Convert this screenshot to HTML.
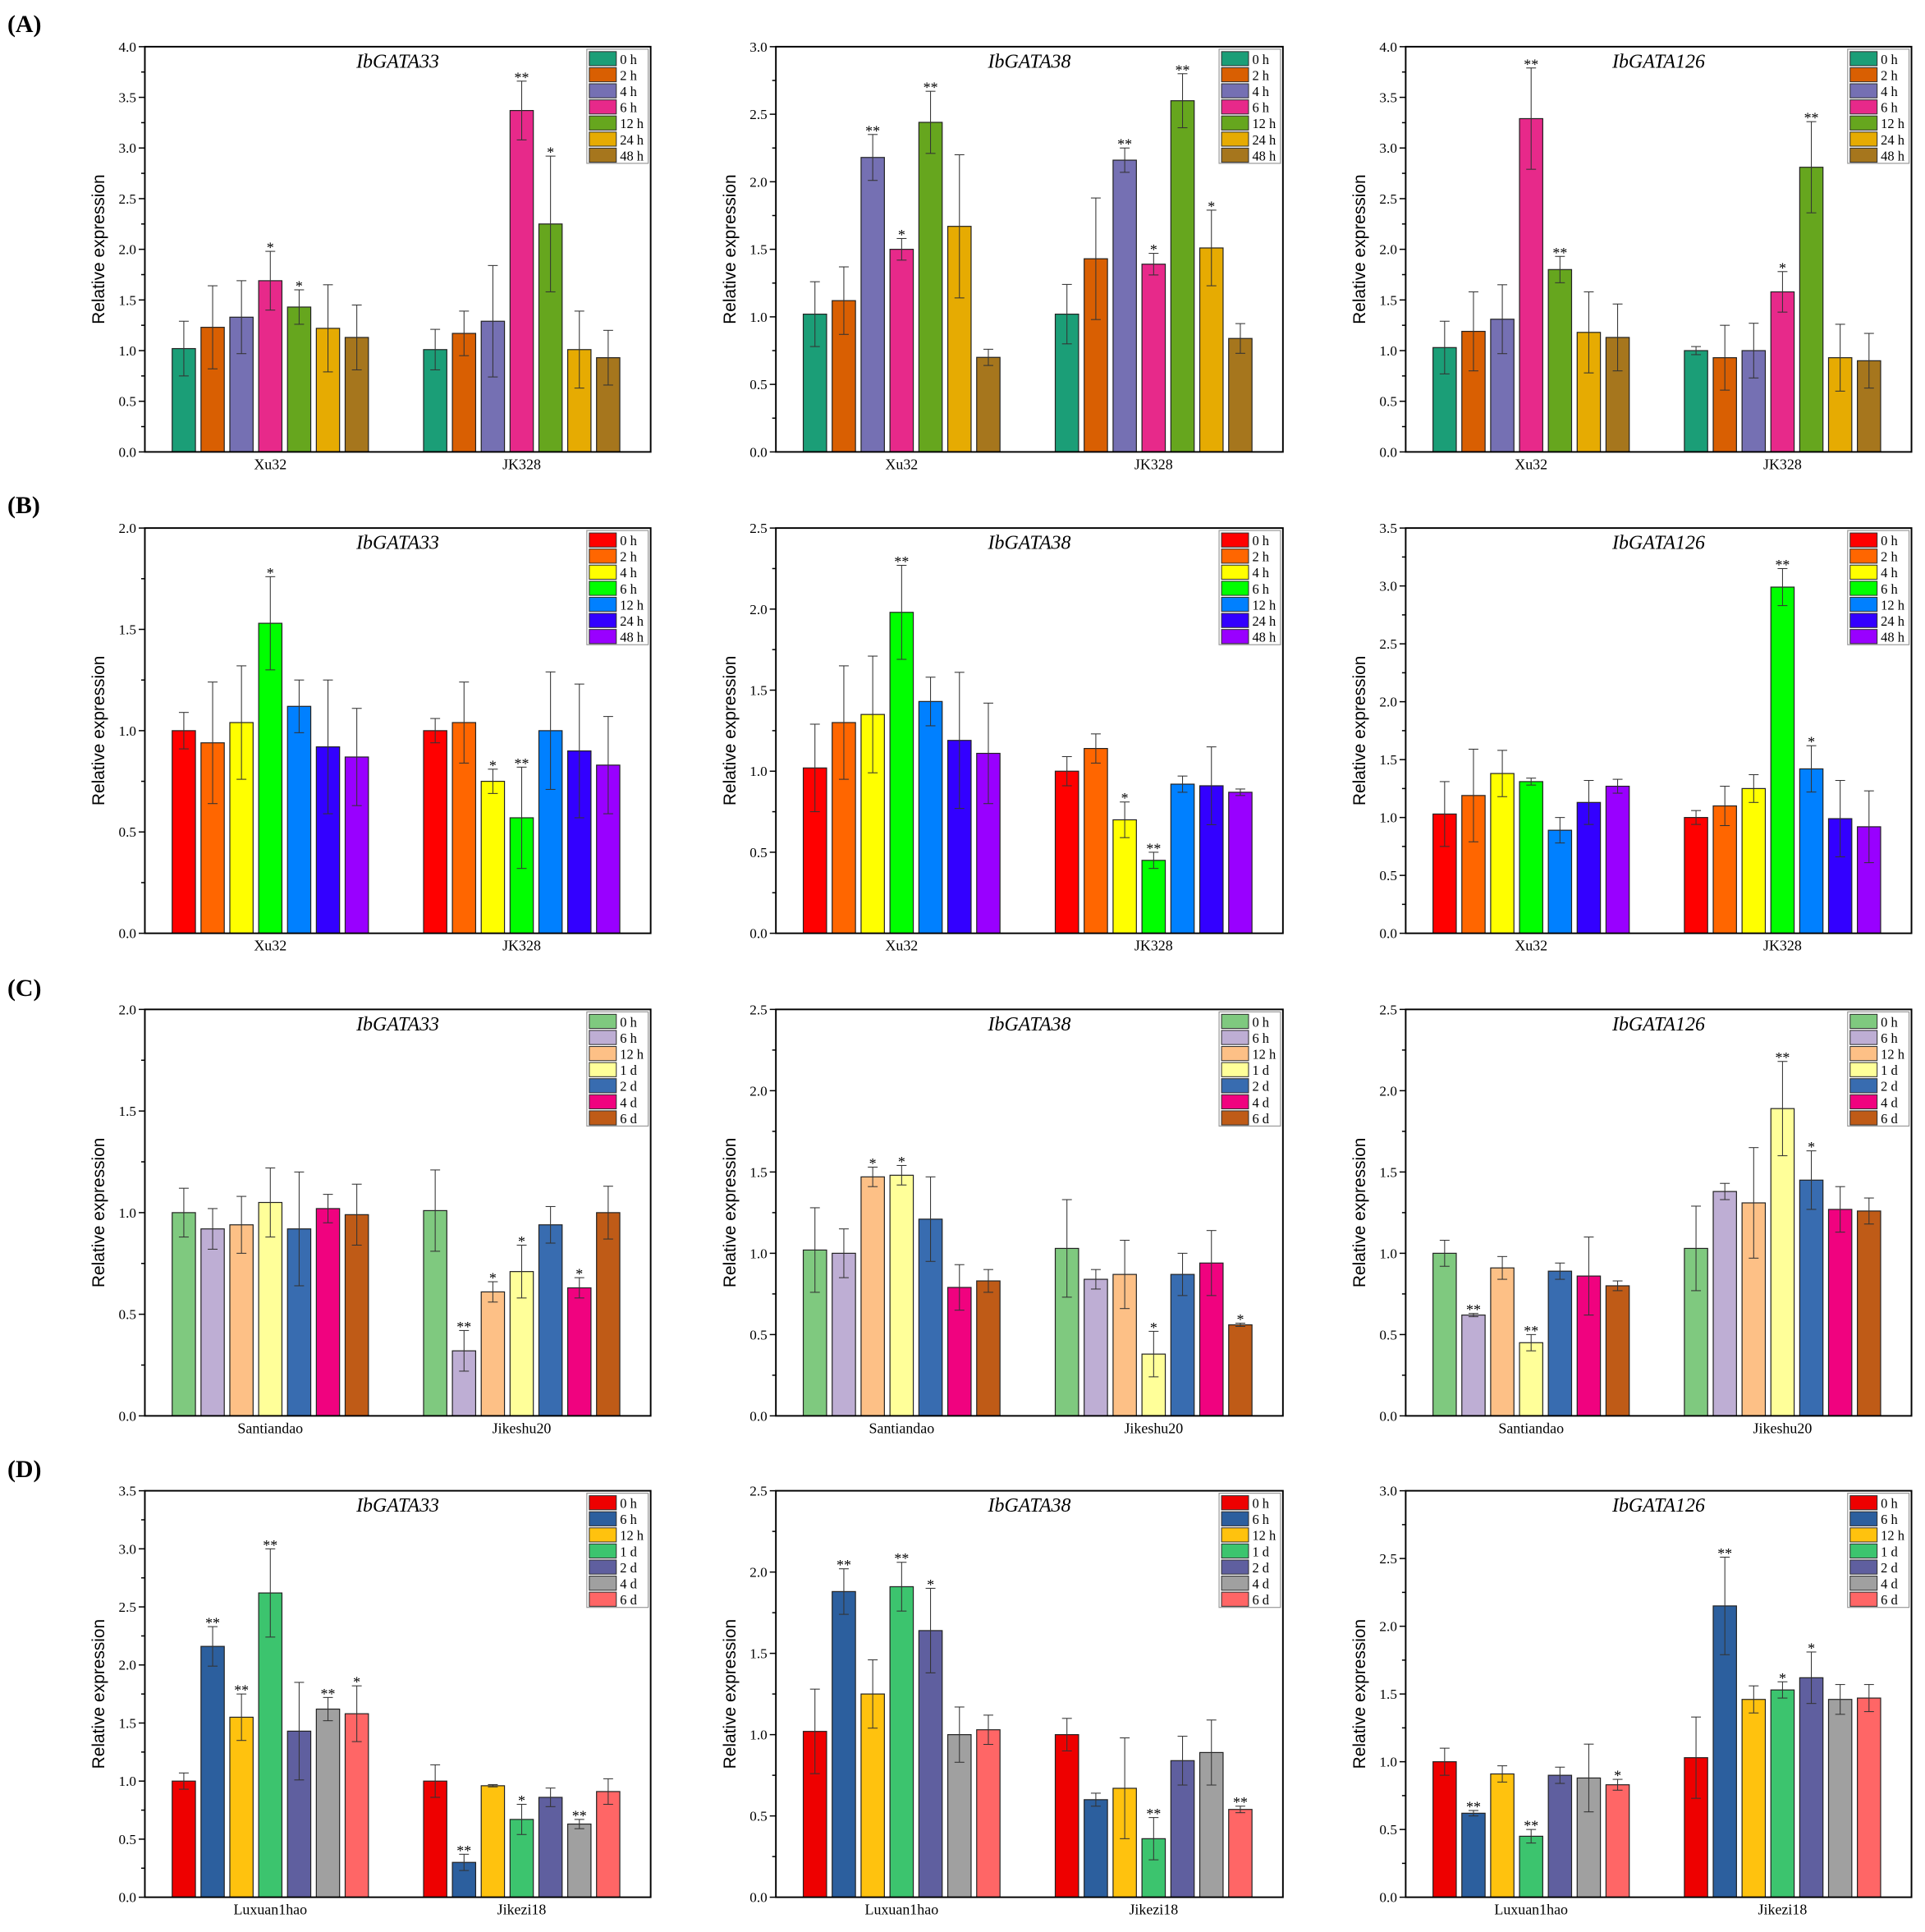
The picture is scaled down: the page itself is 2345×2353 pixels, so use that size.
<!DOCTYPE html>
<html><head><meta charset="utf-8">
<style>
html,body{margin:0;padding:0;background:#fff;}
svg{display:block;}
</style></head>
<body>
<svg id="fig" width="2345" height="2353" viewBox="0 0 1568 1573.3" xmlns="http://www.w3.org/2000/svg"></svg>
<script>
// ---- data ----
const rowLetters = ["(A)","(B)","(C)","(D)"];
const genes = ["IbGATA33","IbGATA38","IbGATA126"];
const groupsA = ["Xu32","JK328"];
const groupsC = ["Santiandao","Jikeshu20"];
const groupsD = ["Luxuan1hao","Jikezi18"];
const legendAB = ["0 h","2 h","4 h","6 h","12 h","24 h","48 h"];
const legendCD = ["0 h","6 h","12 h","1 d","2 d","4 d","6 d"];
const colorsA = ["#1b9e77","#d95f02","#7570b3","#e7298a","#66a61e","#e6ab02","#a6761d"];
const colorsB = ["#ff0000","#ff6600","#ffff00","#00ff00","#0080ff","#3300ff","#9900ff"];
const colorsC = ["#7fc97f","#beaed4","#fdc086","#ffff99","#386cb0","#f0027f","#bf5b17"];
const colorsD = ["#ee0000","#2c5f9e","#ffc20e","#3cc46e","#5f5f9f","#a0a0a0","#ff6666"];
const yMax = [[4,3,4],[2,2.5,3.5],[2,2.5,2.5],[3.5,2.5,3]];
// values [row][col][group][series]
const values = [
 [[[1.02,1.23,1.33,1.69,1.43,1.22,1.13],[1.01,1.17,1.29,3.37,2.25,1.01,0.93]],
  [[1.02,1.12,2.18,1.50,2.44,1.67,0.70],[1.02,1.43,2.16,1.39,2.60,1.51,0.84]],
  [[1.03,1.19,1.31,3.29,1.80,1.18,1.13],[1.00,0.93,1.00,1.58,2.81,0.93,0.90]]],
 [[[1.00,0.94,1.04,1.53,1.12,0.92,0.87],[1.00,1.04,0.75,0.57,1.00,0.90,0.83]],
  [[1.02,1.30,1.35,1.98,1.43,1.19,1.11],[1.00,1.14,0.70,0.45,0.92,0.91,0.87]],
  [[1.03,1.19,1.38,1.31,0.89,1.13,1.27],[1.00,1.10,1.25,2.99,1.42,0.99,0.92]]],
 [[[1.00,0.92,0.94,1.05,0.92,1.02,0.99],[1.01,0.32,0.61,0.71,0.94,0.63,1.00]],
  [[1.02,1.00,1.47,1.48,1.21,0.79,0.83],[1.03,0.84,0.87,0.38,0.87,0.94,0.56]],
  [[1.00,0.62,0.91,0.45,0.89,0.86,0.80],[1.03,1.38,1.31,1.89,1.45,1.27,1.26]]],
 [[[1.00,2.16,1.55,2.62,1.43,1.62,1.58],[1.00,0.30,0.96,0.67,0.86,0.63,0.91]],
  [[1.02,1.88,1.25,1.91,1.64,1.00,1.03],[1.00,0.60,0.67,0.36,0.84,0.89,0.54]],
  [[1.00,0.62,0.91,0.45,0.90,0.88,0.83],[1.03,2.15,1.46,1.53,1.62,1.46,1.47]]]
];
const errors = [
 [[[0.27,0.41,0.36,0.29,0.17,0.43,0.32],[0.20,0.22,0.55,0.29,0.67,0.38,0.27]],
  [[0.24,0.25,0.17,0.08,0.23,0.53,0.06],[0.22,0.45,0.09,0.08,0.20,0.28,0.11]],
  [[0.26,0.39,0.34,0.50,0.13,0.40,0.33],[0.04,0.32,0.27,0.20,0.45,0.33,0.27]]],
 [[[0.09,0.30,0.28,0.23,0.13,0.33,0.24],[0.06,0.20,0.06,0.25,0.29,0.33,0.24]],
  [[0.27,0.35,0.36,0.29,0.15,0.42,0.31],[0.09,0.09,0.11,0.05,0.05,0.24,0.02]],
  [[0.28,0.40,0.20,0.03,0.11,0.19,0.06],[0.06,0.17,0.12,0.16,0.20,0.33,0.31]]],
 [[[0.12,0.10,0.14,0.17,0.28,0.07,0.15],[0.20,0.10,0.05,0.13,0.09,0.05,0.13]],
  [[0.26,0.15,0.06,0.06,0.26,0.14,0.07],[0.30,0.06,0.21,0.14,0.13,0.20,0.01]],
  [[0.08,0.01,0.07,0.05,0.05,0.24,0.03],[0.26,0.05,0.34,0.29,0.18,0.14,0.08]]],
 [[[0.07,0.17,0.20,0.38,0.42,0.10,0.24],[0.14,0.07,0.01,0.13,0.08,0.04,0.11]],
  [[0.26,0.14,0.21,0.15,0.26,0.17,0.09],[0.10,0.04,0.31,0.13,0.15,0.20,0.02]],
  [[0.10,0.02,0.06,0.05,0.06,0.25,0.04],[0.30,0.36,0.10,0.06,0.19,0.11,0.10]]]
];
const stars = [
 [[["","","","*","*","",""],["","","","**","*","",""]],
  [["","","**","*","**","",""],["","","**","*","**","*",""]],
  [["","","","**","**","",""],["","","","*","**","",""]]],
 [[["","","","*","","",""],["","","*","**","","",""]],
  [["","","","**","","",""],["","","*","**","","",""]],
  [["","","","","","",""],["","","","**","*","",""]]],
 [[["","","","","","",""],["","**","*","*","","*",""]],
  [["","","*","*","","",""],["","","","*","","","*"]],
  [["","**","","**","","",""],["","","","**","*","",""]]],
 [[["","**","**","**","","**","*"],["","**","","*","","**",""]],
  [["","**","","**","*","",""],["","","","**","","","**"]],
  [["","**","","**","","","*"],["","**","","*","*","",""]]]
];
// ---- layout ----
const NS="http://www.w3.org/2000/svg";
const svg=document.getElementById('fig');
const colX=[[118,530],[632,1045],[1145,1557]];
const rowY=[[38,368],[430,760],[822,1153],[1214,1545]];
const letterY=[20,412,805,1197];
function mk(tag,attrs,parent){const e=document.createElementNS(NS,tag);for(const k in attrs)e.setAttribute(k,attrs[k]);(parent||svg).appendChild(e);return e;}
const serif='"Liberation Serif", serif';
const palettes=[colorsA,colorsB,colorsC,colorsD];
const groupSets=[groupsA,groupsA,groupsC,groupsD];
const legendSets=[legendAB,legendAB,legendCD,legendCD];

for(let r=0;r<4;r++){
  const L=mk('text',{x:6,y:letterY[r]+6,'font-family':serif,'font-size':20,'font-weight':'bold'});
  
  
  L.textContent=rowLetters[r];
  for(let c=0;c<3;c++){
    const [x0,x1]=colX[c],[y0,y1]=rowY[r];
    const W=x1-x0,H=y1-y0,ym=yMax[r][c];
    const g=mk('g',{});
    
    
    const yS=v=>y1-v/ym*H;
    // y ticks
    const nMaj=Math.round(ym/0.5);
    for(let i=0;i<=nMaj;i++){
      const v=i*0.5,y=yS(v);
      mk('line',{x1:x0-5,x2:x0,y1:y,y2:y,stroke:'#000','stroke-width':1},g);
      const t=mk('text',{x:x0-7,y:y+4,'text-anchor':'end','font-family':serif,'font-size':11.5},g);
      
      
      t.textContent=v.toFixed(1);
      if(i<nMaj){const ym2=yS(v+0.25);mk('line',{x1:x0-3,x2:x0,y1:ym2,y2:ym2,stroke:'#000','stroke-width':1},g);}
    }
    const yl=mk('text',{x:0,y:0,transform:`translate(${x0-33},${(y0+y1)/2}) rotate(-90)`,'text-anchor':'middle','font-family':'"Liberation Sans", sans-serif','font-size':14},g);
    
    
    yl.textContent='Relative expression';
    const tt=mk('text',{x:(x0+x1)/2,y:y0+17,'text-anchor':'middle','font-family':serif,'font-size':16,'font-style':'italic'},g);
    
    
    tt.textContent=genes[c];
    const centers=[0.248,0.745];
    const pitch=0.057*W,bw=0.046*W;
    for(let gi=0;gi<2;gi++){
      const cx=x0+centers[gi]*W;
      const gl=mk('text',{x:cx,y:y1+14,'text-anchor':'middle','font-family':serif,'font-size':12},g);
      
      
      gl.textContent=groupSets[r][gi];
      for(let s=0;s<7;s++){
        const v=values[r][c][gi][s],e=errors[r][c][gi][s];
        const bx=cx+(s-3)*pitch;
        const rect=mk('rect',{x:bx-bw/2,y:yS(v),width:bw,height:y1-yS(v),fill:palettes[r][s],stroke:'#222','stroke-width':0.8},g);
        
        
        const yt=yS(v+e),yb=yS(Math.max(0,v-e));
        mk('line',{x1:bx,x2:bx,y1:yt,y2:yb,stroke:'#333','stroke-width':0.7},g);
        mk('line',{x1:bx-4,x2:bx+4,y1:yt,y2:yt,stroke:'#333','stroke-width':0.7},g);
        mk('line',{x1:bx-4,x2:bx+4,y1:yb,y2:yb,stroke:'#333','stroke-width':0.7},g);
        const st=stars[r][c][gi][s];
        if(st){const sx=mk('text',{x:bx,y:yt+1,'text-anchor':'middle','font-family':serif,'font-size':12},g);
          
          
          sx.textContent=st;}
      }
    }
    mk('rect',{x:x0,y:y0,width:W,height:H,fill:'none',stroke:'#000','stroke-width':1.3},g);
    // legend
    const lx=x1-52,ly=y0+2;
    const lg=mk('g',{},g);
    
    
    mk('rect',{x:lx,y:ly,width:50,height:93,fill:'#fff',stroke:'#999','stroke-width':0.8},lg);
    for(let s=0;s<7;s++){
      const ey=ly+2+s*13.1;
      const sw=mk('rect',{x:lx+2,y:ey,width:22,height:11.5,fill:palettes[r][s],stroke:'#333','stroke-width':0.7},lg);
      
      
      const lt=mk('text',{x:lx+27,y:ey+10,'font-family':serif,'font-size':11},lg);
      
      
      lt.textContent=legendSets[r][s];
    }
  }
}
</script>
</body></html>
